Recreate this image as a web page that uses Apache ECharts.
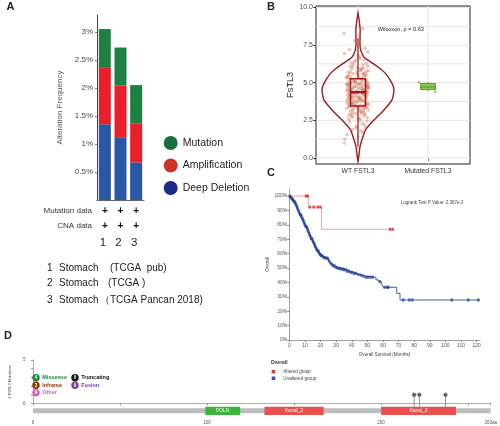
<!DOCTYPE html>
<html><head><meta charset="utf-8">
<script src="https://cdn.jsdelivr.net/npm/echarts@6.0.0/dist/echarts.min.js"></script>
<style>html,body{margin:0;padding:0;background:#fff}#c{width:500px;height:426px}</style>
</head><body><div id="c"></div>
<script>
// ---------- Panel A data ----------
const studies = ['1', '2', '3'];
const studyNames = ['Stomach', 'Stomach', 'Stomach'];
const studySources = ['(TCGA  pub)', '(TCGA )', '（TCGA Pancan 2018)'];
const deepDeletion = [1.35, 1.12, 0.67];
const amplification = [1.02, 0.92, 0.69];
const mutation = [0.68, 0.68, 0.69];
const freqTicks = [0.5, 1, 1.5, 2, 2.5, 3];
const dataRows = ['Mutation data', 'CNA data'];

// ---------- Panel B data ----------
const groupPos = [1, 2];
const groupLabels = ['WT FSTL3', 'Mutated FSTL3'];
const exprTicks = [0, 2.5, 5, 7.5, 10];
const exprGridLines = [0, 1.25, 2.5, 3.75, 5, 6.25, 7.5, 8.75, 10];
const violinVals = [-0.22, 0.3, 0.77, 1.21, 1.87, 2.53, 3.19, 3.86, 4.52, 4.96, 5.62, 6.0, 6.39, 6.7, 7.1, 7.5, 8.0, 8.5, 9.0, 9.63];
const violinHalfWidth = [0, 0.017, 0.029, 0.057, 0.107, 0.229, 0.371, 0.486, 0.514, 0.486, 0.393, 0.3, 0.179, 0.086, 0.043, 0.029, 0.029, 0.031, 0.021, 0];
const wtJitter = [-0.12,0.05,-0.03,0.11,-0.15,0.02,0.09,-0.07,0.14,-0.1,0.06,-0.02,0.12,-0.13,0.03,-0.08,0.1,-0.04,0.07,-0.16,
0.01,-0.11,0.13,-0.06,0.08,-0.14,0.04,-0.01,0.15,-0.09,0.0,0.1,-0.12,0.06,-0.05,0.12,-0.15,0.03,-0.07,0.09,
-0.02,0.14,-0.1,0.05,-0.13,0.02,0.11,-0.08,0.07,-0.16,0.04,-0.03,0.13,-0.11,0.01,0.08,-0.06,0.15,-0.14,0.03,
-0.09,0.1,-0.01,0.06,-0.12,0.12,-0.04,0.09,-0.15,0.02,0.14,-0.07,0.05,-0.1,0.0,0.11,-0.13,0.07,-0.02,0.13,
-0.05,0.04,-0.11,0.08,-0.16,0.01,0.12,-0.08,0.06,-0.03,0.1,-0.14,0.03,-0.06,0.15,-0.09,0.07,-0.12,0.02,0.09,
-0.01,-0.15,0.11,-0.07,0.05,-0.1,0.13,-0.04,0.08,-0.13,0.0,0.14,-0.08,0.04,-0.11,0.1,-0.02,0.06,-0.15,0.12,
-0.06,0.03,-0.12,0.09,-0.03,-0.2,0.07,0.14,-0.19,-0.19,-0.19,-0.16,0.07,0.03,-0.05,0.1,-0.12,0.0,0.11,-0.08,0.02,
0.13,-0.14,0.06,-0.09,0.1,-0.04,0.01,-0.12,0.08,-0.17,0.12,-0.06,0.04,-0.1,0.15,-0.02,0.07,-0.13,0.11,-0.08,
0.03,-0.15,0.09,-0.05,0.14,-0.11,0.0,0.06,-0.07,0.12,-0.14,0.05,-0.01,0.1,-0.09,0.02,-0.16,0.13,-0.04,0.08,
-0.12,0.04,-0.06,0.11,-0.1,0.15,-0.03,0.07,-0.13,0.01,0.09,-0.08,0.14,-0.15,0.05,-0.02,0.12,-0.11,0.03,-0.07];
const wtExpr = [4.1,4.6,3.8,5.2,4.9,3.2,4.3,5.6,3.6,2.9,5.9,4.4,4.8,3.4,2.6,4.0,3.9,5.1,6.2,4.5,
5.4,3.1,4.2,4.7,2.8,5.7,3.5,6.0,4.6,3.7,4.9,5.5,2.4,3.3,6.4,4.0,4.2,5.8,3.0,2.2,
4.3,5.0,5.3,3.9,4.8,6.6,3.6,2.7,4.5,3.8,5.2,2.0,4.4,6.1,3.4,5.6,4.1,3.2,4.6,4.9,
5.9,2.9,3.7,4.2,3.5,6.3,5.0,3.0,5.4,2.5,4.7,4.3,5.3,3.9,6.8,4.1,2.6,3.8,5.7,3.4,
4.8,1.8,4.4,6.0,3.3,4.6,5.1,3.6,2.3,6.5,4.9,4.0,3.1,5.2,5.8,2.8,4.3,5.5,3.9,4.5,
3.3,4.7,3.7,6.2,5.0,4.2,2.7,3.5,5.4,4.9,4.0,6.1,3.2,4.7,5.7,3.3,2.1,4.8,3.6,4.4,
5.1,6.7,4.5,3.5,4.1,8.27,8.6,7.05,6.94,0.99,1.26,1.54,1.69,7.4,7.8,7.3,7.2,1.4,2.0,1.9,8.1,
4.35,5.05,3.75,4.55,5.65,3.45,4.95,4.25,3.15,5.35,4.65,3.85,5.85,4.05,3.55,4.75,5.15,2.85,4.45,6.05,
3.95,5.45,4.15,3.65,4.85,5.25,2.65,4.5,3.25,5.75,4.4,3.05,5.55,4.2,6.35,3.8,4.9,2.45,5.1,4.6,
3.7,5.95,4.3,3.35,5.0,4.7,2.95,5.6,3.9,4.1,6.55,3.6,4.8,5.3,3.0,4.45,5.5,3.4,4.0,4.65];
const mutJitter = [-0.13, 0.1, -0.03, 0.05];
const mutExpr = [5.04, 4.4, 4.7, 4.85];
const boxStats = [[1, 0.76, 3.46, 4.37, 5.26, 7.96], [2, 4.45, 4.55, 4.72, 4.95, 5.05]];
const wilcoxonText = 'Wilcoxon, p = 0.63';

// ---------- Panel C data ----------
const monthTicks = [0,10,20,30,40,50,60,70,80,90,100,110,120];
const survTicks = [0,10,20,30,40,50,60,70,80,90,100];
const alteredT = [0, 12.2, 20.7, 66.5];
const alteredS = [100, 92.3, 76.9, 76.9];
const alteredCensor = [10.7, 11.8, 13.1, 15.6, 18.2, 19.9, 64.5, 66.2];
const unalteredT = [0,0.5,1,1.5,2,2.5,3,3.5,4,4.5,5,5.5,6,6.5,7,7.5,8,8.5,9,9.5,10,10.5,11,11.5,12,12.5,13,13.5,14,14.5,15,15.5,16,16.5,17,17.5,18,18.5,19,19.5,20,
21,22,23,24,25,26,27,28,29,30,31,33,35,37,39,41,43,45,47,49,55.5,57,59,60.2,68.8,70.9,122];
const unalteredS = [100,99.4,98.8,98.2,97.6,96.9,96.0,95.1,94.0,92.8,91.6,90.5,89.2,88.1,86.9,85.8,84.6,83.5,82.4,81.2,80.0,78.9,77.8,76.5,75.3,74.0,72.8,71.7,70.5,69.4,68.3,67.2,66.1,65.0,64.0,63.0,62.0,61.0,60.2,59.4,58.6,
57.9,57.3,57.0,56.5,55.0,53.5,52.5,51.5,50.6,50.2,49.8,49.3,48.8,47.8,47.0,46.3,45.5,45.0,44.4,43.6,41.7,40.5,38.9,36.6,32.4,27.8,27.8];
const unalteredCensor = [0.3,0.8,1.2,1.7,2.1,2.6,3.0,3.4,3.9,4.3,4.8,5.2,5.6,6.1,6.5,7.0,7.4,7.8,8.3,8.7,9.2,9.6,10.0,10.5,10.9,11.4,11.8,12.2,12.7,13.1,13.6,14.0,14.4,14.9,15.3,15.8,16.2,16.6,17.1,17.5,18.0,18.4,18.9,19.3,19.8,20.3,20.9,21.5,22.2,23.0,23.8,24.7,25.5,26.3,27.2,28.0,28.9,29.8,30.6,31.5,32.4,33.3,34.2,35.1,36.0,37.0,38.1,39.2,40.3,41.5,42.6,44.2,45.8,47.4,49.0,50.5,52.0,53.5,57.8,61.0,62.8,63.4,73.0,76.9,78.8,104.0,114.6,121.0];
const logrankText = 'Logrank Test P Value: 2.367e-3';
const kmGroups = ['Altered group', 'Unaltered group'];

// ---------- Panel D data ----------
const proteinLength = 263;
const domainNames = ['FOLN', 'Kazal_2', 'Kazal_2'];
const domainStart = [99, 133, 200];
const domainEnd = [119, 167, 243];
const mutPos = [219, 222, 237];
const mutCount = [1, 1, 1];
const aaLabelTicks = [0, 100, 200, 263];
const aaTicks = [0, 50, 100, 150, 200, 250, 263];
const countTicks = [0, 1, 2, 3, 4, 5];
const mutTypes = ['Missense', 'Truncating', 'Inframe', 'Fusion', 'Other'];
const mutTypeCounts = [4, 0, 2, 0, 0];

// ---------- styles ----------
const FONT = 'Arial, "Liberation Sans", Helvetica, sans-serif';
const domainColor = { FOLN: '#3cb43c', Kazal_2: '#e8504f' };
const typeColor = { Missense: '#1d8a3c', Truncating: '#111111', Inframe: '#993404', Fusion: '#7b3fa0', Other: '#cc66bb' };

function stepAt(T, S, t) { let v = S[0]; for (let i = 0; i < T.length; i++) { if (T[i] <= t) v = S[i]; else break; } return v; }
function txt(x, y, text, size, o) {
  o = o || {};
  return { type: 'text', x: x, y: y, rotation: o.rotation || 0, silent: true, z: 100,
    style: { text: text, fill: o.fill || '#222', font: (o.weight || 'normal') + ' ' + size + 'px ' + FONT,
      align: o.align || 'left', verticalAlign: 'middle' } };
}

const chart = echarts.init(document.getElementById('c'), null, { renderer: 'canvas' });

const option = {
  animation: false,
  textStyle: { fontFamily: FONT },
  grid: [
    { left: 97, top: 15, width: 47, height: 185 },
    { left: 316, top: 6, width: 154, height: 158, show: true, borderColor: '#222', borderWidth: 1, backgroundColor: '#fff' },
    { left: 289.3, top: 188.8, width: 190.5, height: 151.2 },
    { left: 22.3, top: 360, width: 471.3, height: 43.5 }
  ],
  legend: [{
    data: [
      { name: 'Mutation', itemStyle: { color: '#17703c' } },
      { name: 'Amplification', itemStyle: { color: '#cc3526' } },
      { name: 'Deep Deletion', itemStyle: { color: '#1d2a8a' } }
    ],
    orient: 'vertical', left: 163.7, top: 136, icon: 'circle', itemWidth: 14, itemHeight: 14, itemGap: 8.5,
    padding: 0, selectedMode: false, textStyle: { fontSize: 10.5, color: '#222' }
  }],
  xAxis: [
    { type: 'category', gridIndex: 0, data: studies, axisLabel: { show: false },
      axisLine: { lineStyle: { color: '#666' } }, axisTick: { alignWithLabel: true, length: 2, lineStyle: { color: '#999' } } },
    { type: 'value', gridIndex: 1, min: 0.4, max: 2.6, axisLine: { show: false }, splitLine: { show: false },
      axisTick: { customValues: groupPos, length: 3, lineStyle: { color: '#222' } },
      axisLabel: { customValues: groupPos, formatter: v => groupLabels[Math.round(v) - 1], fontSize: 6.8, color: '#333', margin: 4 } },
    { type: 'value', gridIndex: 2, min: 0, max: 122, splitLine: { show: false },
      axisLine: { lineStyle: { color: '#888', width: 0.8 } },
      axisTick: { customValues: monthTicks, length: 2, lineStyle: { color: '#888' } },
      axisLabel: { customValues: monthTicks, fontSize: 5, color: '#555', margin: 3 },
      name: 'Overall Survival (Months)', nameLocation: 'middle', nameGap: 12, nameTextStyle: { fontSize: 4.6, color: '#444' } },
    { type: 'value', gridIndex: 3, min: 0, max: proteinLength, offset: 13.5, splitLine: { show: false },
      axisLine: { lineStyle: { color: '#999', width: 0.8 } },
      axisTick: { customValues: aaTicks, length: 2, lineStyle: { color: '#999' } },
      axisLabel: { customValues: aaLabelTicks, formatter: v => v === proteinLength ? v + 'aa' : String(v), fontSize: 4.5, color: '#555', margin: 3 } }
  ],
  yAxis: [
    { type: 'value', gridIndex: 0, min: 0, max: 3.3, splitLine: { show: false },
      axisLine: { show: true, lineStyle: { color: '#444' } },
      axisTick: { show: true, customValues: freqTicks, length: 2, lineStyle: { color: '#888' } },
      axisLabel: { customValues: freqTicks, formatter: v => v + '%', fontSize: 8, color: '#444', margin: 4 },
      name: 'Alteration Frequency', nameLocation: 'middle', nameGap: 33, nameTextStyle: { fontSize: 8, color: '#555' } },
    { type: 'value', gridIndex: 1, min: -0.4, max: 10.1, axisLine: { show: false }, splitLine: { show: false },
      axisTick: { show: true, customValues: exprTicks, length: 2.5, lineStyle: { color: '#222' } },
      axisLabel: { customValues: exprTicks, formatter: v => v.toFixed(1), fontSize: 7, color: '#4d4d4d', margin: 3 },
      name: 'F{s|S}TL3', nameLocation: 'middle', nameGap: 19,
      nameTextStyle: { fontSize: 9, color: '#222', rich: { s: { fontSize: 7.5, color: '#222' } } } },
    { type: 'value', gridIndex: 2, min: 0, max: 105, splitLine: { show: false },
      axisLine: { show: true, lineStyle: { color: '#888', width: 0.8 } },
      axisTick: { show: true, customValues: survTicks, length: 2, lineStyle: { color: '#888' } },
      axisLabel: { customValues: survTicks, formatter: v => v + '%', fontSize: 5, color: '#555', margin: 2 },
      name: 'Overall', nameLocation: 'middle', nameGap: 15, nameTextStyle: { fontSize: 4.6, color: '#444' } },
    { type: 'value', gridIndex: 3, min: 0, max: 5, offset: 5.6, splitLine: { show: false },
      axisLine: { show: true, lineStyle: { color: '#999', width: 0.8 } },
      axisTick: { show: true, customValues: countTicks, length: 2, lineStyle: { color: '#999' } },
      axisLabel: { customValues: [0, 5], fontSize: 4.5, color: '#555', margin: 2 },
      name: '# FSTL3 Mutations', nameLocation: 'middle', nameGap: 9, nameTextStyle: { fontSize: 4, color: '#444' } }
  ],
  series: [
    // Panel A
    { type: 'bar', name: 'Deep Deletion', stack: 'a', xAxisIndex: 0, yAxisIndex: 0, barWidth: 12, data: deepDeletion, itemStyle: { color: '#2b57a7' } },
    { type: 'bar', name: 'Amplification', stack: 'a', xAxisIndex: 0, yAxisIndex: 0, barWidth: 12, data: amplification, itemStyle: { color: '#e8202a' } },
    { type: 'bar', name: 'Mutation', stack: 'a', xAxisIndex: 0, yAxisIndex: 0, barWidth: 12, data: mutation, itemStyle: { color: '#1f8043' } },
    // Panel B grid lines
    { type: 'custom', xAxisIndex: 1, yAxisIndex: 1, silent: true, z: 1, data: exprGridLines.map(v => [1, v]),
      renderItem: (params, api) => { const cs = params.coordSys; const p = api.coord([1, api.value(1)]);
        return { type: 'line', shape: { x1: cs.x, y1: p[1], x2: cs.x + cs.width, y2: p[1] }, style: { stroke: '#e4e4e4', lineWidth: 1 } }; } },
    { type: 'custom', xAxisIndex: 1, yAxisIndex: 1, silent: true, z: 1, data: groupPos.map(g => [g, 5]),
      renderItem: (params, api) => { const cs = params.coordSys; const p = api.coord([api.value(0), 5]);
        return { type: 'line', shape: { x1: p[0], y1: cs.y, x2: p[0], y2: cs.y + cs.height }, style: { stroke: '#e4e4e4', lineWidth: 1 } }; } },
    // violin
    { type: 'custom', xAxisIndex: 1, yAxisIndex: 1, silent: true, z: 2, data: [[1, 4.5]],
      renderItem: (params, api) => {
        const right = violinVals.map((v, i) => api.coord([1 + violinHalfWidth[i], v]));
        const left = violinVals.map((v, i) => api.coord([1 - violinHalfWidth[i], v])).reverse();
        return { type: 'polygon', shape: { points: right.concat(left), smooth: 0.2 }, style: { fill: 'rgba(255,255,255,0)', stroke: '#9e1b1e', lineWidth: 1.4 } };
      } },
    { type: 'scatter', xAxisIndex: 1, yAxisIndex: 1, z: 3, symbolSize: 3.6, data: wtExpr.map((v, i) => [1 + wtJitter[i], v]),
      itemStyle: { color: 'rgba(205,118,85,0.5)' } },
    { type: 'scatter', xAxisIndex: 1, yAxisIndex: 1, z: 3, symbolSize: 3, data: mutExpr.map((v, i) => [2 + mutJitter[i], v]),
      itemStyle: { color: 'rgba(110,175,60,0.75)' } },
    { type: 'custom', xAxisIndex: 1, yAxisIndex: 1, silent: true, z: 4, data: boxStats,
      renderItem: (params, api) => {
        const x = api.value(0), lo = api.value(1), q1 = api.value(2), med = api.value(3), q3 = api.value(4), hi = api.value(5);
        const hw = 0.107, wt = params.dataIndex === 0;
        const stroke = wt ? '#a3181d' : '#5f9e2e', fill = wt ? 'rgba(255,255,255,0)' : '#8cc850';
        const pLo = api.coord([x, lo]), pHi = api.coord([x, hi]), a = api.coord([x - hw, q3]), b = api.coord([x + hw, q1]);
        const m1 = api.coord([x - hw, med]), m2 = api.coord([x + hw, med]);
        return { type: 'group', children: [
          { type: 'line', shape: { x1: pLo[0], y1: pLo[1], x2: pLo[0], y2: b[1] }, style: { stroke: stroke, lineWidth: 1.2 } },
          { type: 'line', shape: { x1: pHi[0], y1: pHi[1], x2: pHi[0], y2: a[1] }, style: { stroke: stroke, lineWidth: 1.2 } },
          { type: 'rect', shape: { x: a[0], y: a[1], width: b[0] - a[0], height: b[1] - a[1] }, style: { fill: fill, stroke: stroke, lineWidth: wt ? 1.5 : 1 } },
          { type: 'line', shape: { x1: m1[0], y1: m1[1], x2: m2[0], y2: m2[1] }, style: { stroke: stroke, lineWidth: wt ? 2.5 : 1.2 } }
        ] };
      } },
    // Panel C
    { type: 'line', xAxisIndex: 2, yAxisIndex: 2, step: 'end', showSymbol: false, z: 3,
      data: unalteredT.map((t, i) => [t, unalteredS[i]]), lineStyle: { color: '#3b63b5', width: 1 } },
    { type: 'scatter', xAxisIndex: 2, yAxisIndex: 2, symbol: 'rect', symbolSize: [2.4, 3], z: 4,
      data: unalteredCensor.map(t => [t, stepAt(unalteredT, unalteredS, t)]), itemStyle: { color: '#26448f' } },
    { type: 'line', xAxisIndex: 2, yAxisIndex: 2, step: 'end', showSymbol: false, z: 3,
      data: alteredT.map((t, i) => [t, alteredS[i]]), lineStyle: { color: '#f2a49c', width: 1 } },
    { type: 'scatter', xAxisIndex: 2, yAxisIndex: 2, symbol: 'rect', symbolSize: [2.4, 3], z: 4,
      data: alteredCensor.map(t => [t, stepAt(alteredT, alteredS, t)]), itemStyle: { color: '#d42a2a' } },
    // Panel D
    { type: 'custom', xAxisIndex: 3, yAxisIndex: 3, silent: true, z: 2, data: [[0, proteinLength]],
      renderItem: (params, api) => { const a = api.coord([api.value(0), 0]), b = api.coord([api.value(1), 0]);
        return { type: 'rect', shape: { x: a[0], y: a[1] + 4.8, width: b[0] - a[0], height: 5 }, style: { fill: '#bdbdbd' } }; } },
    { type: 'custom', xAxisIndex: 3, yAxisIndex: 3, silent: true, z: 3, data: domainStart.map((s, i) => [s, domainEnd[i], i]),
      renderItem: (params, api) => {
        const a = api.coord([api.value(0), 0]), b = api.coord([api.value(1), 0]); const nm = domainNames[api.value(2)];
        return { type: 'group', children: [
          { type: 'rect', shape: { x: a[0], y: a[1] + 3.2, width: b[0] - a[0], height: 8.3 }, style: { fill: domainColor[nm] } },
          { type: 'text', x: (a[0] + b[0]) / 2, y: a[1] + 7.4, style: { text: nm, fill: '#fff', font: '5px ' + FONT, align: 'center', verticalAlign: 'middle' } }
        ] };
      } },
    { type: 'custom', xAxisIndex: 3, yAxisIndex: 3, silent: true, z: 4, data: mutPos.map((p, i) => [p, mutCount[i]]),
      renderItem: (params, api) => {
        const base = api.coord([api.value(0), 0]), top = api.coord([api.value(0), api.value(1)]);
        return { type: 'group', children: [
          { type: 'line', shape: { x1: base[0], y1: base[1] + 3.2, x2: top[0], y2: top[1] }, style: { stroke: '#777', lineWidth: 0.8 } },
          { type: 'circle', shape: { cx: top[0], cy: top[1], r: 1.8 }, style: { fill: '#666', stroke: '#444', lineWidth: 0.5 } }
        ] };
      } }
  ]
};
chart.setOption(option);

// ----- annotations -----
const g = [];
g.push(txt(10.5, 7, 'A', 11, { weight: 'bold', align: 'center' }));
g.push(txt(271, 6.5, 'B', 11, { weight: 'bold', align: 'center' }));
g.push(txt(271, 173, 'C', 11, { weight: 'bold', align: 'center' }));
g.push(txt(8, 336, 'D', 11, { weight: 'bold', align: 'center' }));

const rowY = [211, 226];
dataRows.forEach((r, j) => {
  g.push(txt(92, rowY[j], r, 8, { align: 'right', fill: '#333' }));
  studies.forEach((s, i) => {
    const px = chart.convertToPixel({ gridIndex: 0 }, [i, 0]);
    g.push(txt(px[0], rowY[j], '+', 10, { weight: 'bold', align: 'center', fill: '#111' }));
  });
});
studies.forEach((s, i) => {
  const px = chart.convertToPixel({ gridIndex: 0 }, [i, 0]);
  g.push(txt(px[0] - 2, 243, s, 11.5, { align: 'center', fill: '#222' }));
});
const listY = [268, 283, 300];
const srcX = [110, 108, 100];
studies.forEach((s, i) => {
  g.push(txt(47, listY[i], s, 10));
  g.push(txt(59, listY[i], studyNames[i], 10));
  g.push(txt(srcX[i], listY[i], studySources[i], 10));
});

g.push(txt(377.7, 29.5, wilcoxonText, 5.6, { fill: '#222' }));

g.push(txt(400.7, 203, logrankText, 4.5, { fill: '#444' }));
g.push(txt(270.7, 362.3, 'Overall', 5, { weight: 'bold', fill: '#333' }));
const kmColors = ['#e03a3a', '#3a55a5'];
kmGroups.forEach((k, i) => {
  const y = 371.7 + i * 6.6;
  g.push({ type: 'rect', shape: { x: 271.7, y: y - 1.8, width: 3.6, height: 3.6 }, style: { fill: kmColors[i] }, silent: true, z: 100 });
  g.push(txt(283.3, y, k, 4.6, { fill: '#444' }));
});

const legPos = [[36, 377.7], [75, 377.7], [36, 385.3], [75, 385.3], [36, 392.7]];
mutTypes.forEach((t, i) => {
  const p = legPos[i];
  g.push({ type: 'circle', shape: { cx: p[0], cy: p[1], r: 3.7 }, style: { fill: typeColor[t] }, silent: true, z: 100 });
  g.push(txt(p[0], p[1] + 0.2, String(mutTypeCounts[i]), 4.5, { align: 'center', fill: '#fff', weight: 'bold' }));
  g.push(txt(p[0] + 6.2, p[1], t, 5.5, { fill: typeColor[t], weight: 'bold' }));
});

chart.setOption({ graphic: g });
</script>
</body></html>
